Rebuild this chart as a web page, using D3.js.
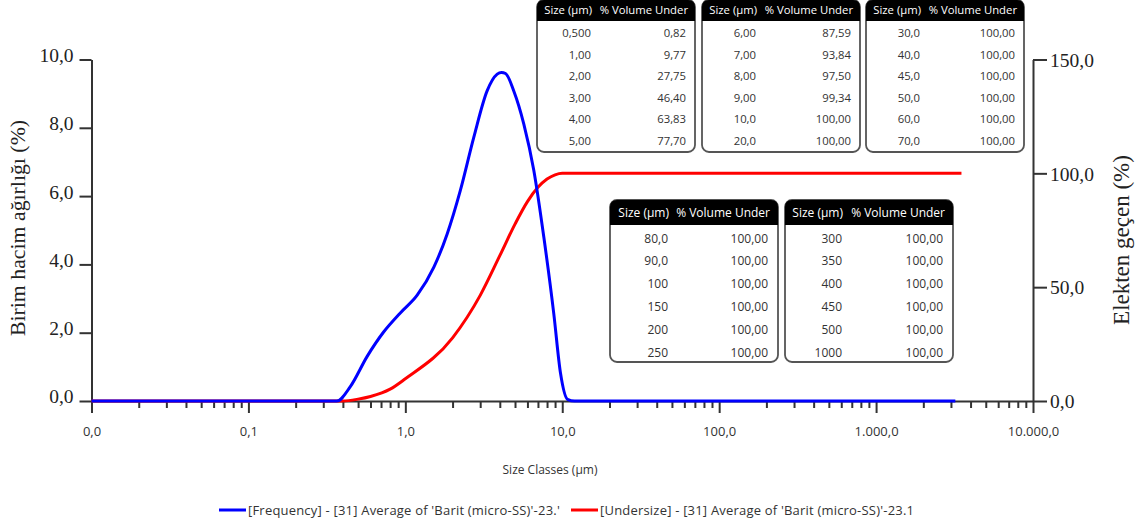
<!DOCTYPE html>
<html>
<head>
<meta charset="utf-8">
<script src="https://cdn.jsdelivr.net/npm/d3@7"></script>
<style>
  body { margin: 0; background: #fff; }
  svg { display: block; }
</style>
</head>
<body>
<div id="svg-container"></div>
<script>
// frequency curve (blue)
const freqSizes = [0.01, 0.366, 0.446, 0.57, 0.727, 0.929, 1.19, 1.52, 1.85, 2.24, 2.73, 3.32, 3.85, 4.1, 4.35, 4.91, 5.69, 6.59, 7.63, 8.83, 9.75, 10.8, 12, 3200];
const freqValues = [0, 0, 0.42, 1.3, 2.02, 2.58, 3.1, 3.92, 4.9, 6.16, 7.72, 9.08, 9.57, 9.62, 9.59, 9.08, 8.11, 6.75, 4.8, 2.56, 0.81, 0.05, 0, 0];

// undersize curve (red)
const underSizes = [0.01, 0.4, 0.5, 0.6, 0.8, 1, 2, 3, 4, 5, 6, 7, 8, 9, 10, 3500];
const underValues = [0, 0, 0.82, 2.0, 5.2, 9.77, 27.75, 46.4, 63.83, 77.7, 87.59, 93.84, 97.5, 99.34, 100, 100];

// tables
const tableSizes = ["0,500", "1,00", "2,00", "3,00", "4,00", "5,00",
  "6,00", "7,00", "8,00", "9,00", "10,0", "20,0",
  "30,0", "40,0", "45,0", "50,0", "60,0", "70,0",
  "80,0", "90,0", "100", "150", "200", "250",
  "300", "350", "400", "450", "500", "1000"];
const tableUnder = ["0,82", "9,77", "27,75", "46,40", "63,83", "77,70",
  "87,59", "93,84", "97,50", "99,34", "100,00", "100,00",
  "100,00", "100,00", "100,00", "100,00", "100,00", "100,00",
  "100,00", "100,00", "100,00", "100,00", "100,00", "100,00",
  "100,00", "100,00", "100,00", "100,00", "100,00", "100,00"];

// axis ticks
const xMajor = [0.01, 0.1, 1, 10, 100, 1000, 10000];
const xMajorLabels = ["0,0", "0,1", "1,0", "10,0", "100,0", "1.000,0", "10.000,0"];
const leftTicks = [0, 2, 4, 6, 8, 10];
const leftLabels = ["0,0", "2,0", "4,0", "6,0", "8,0", "10,0"];
const rightTicks = [0, 50, 100, 150];
const rightLabels = ["0,0", "50,0", "100,0", "150,0"];

const legendLabels = [
  "[Frequency] - [31] Average of 'Barit (micro-SS)'-23.'",
  "[Undersize] - [31] Average of 'Barit (micro-SS)'-23.1"
];

const width = 1141;
const height = 528;
const plotLeft = 91.5, plotRight = 1033, plotTop = 59.5, plotBottom = 401;

const svg = d3
  .select("#svg-container")
  .append("svg")
  .attr("width", width)
  .attr("height", height);

const x = d3.scaleLog().domain([0.01, 10000]).range([plotLeft, plotRight]);
const yL = d3.scaleLinear().domain([0, 10]).range([plotBottom, plotTop]);
const yR = d3.scaleLinear().domain([0, 150]).range([plotBottom, plotTop]);

const sans = "'Open Sans', 'Noto Sans', sans-serif";
const serif = "'Liberation Serif', 'DejaVu Serif', serif";
const axisColor = "#333";

// x axis, majors and minors
const xTicks = x.ticks();
const isMajor = (d) => Math.abs(Math.log10(d) - Math.round(Math.log10(d))) < 1e-9;
const gx = svg
  .append("g")
  .attr("transform", `translate(0,${plotBottom})`)
  .call(
    d3.axisBottom(x)
      .tickValues(xTicks)
      .tickSizeOuter(0)
      .tickFormat((d) => {
        let i = xMajor.findIndex((m) => Math.abs(m - d) / m < 1e-6);
        return i >= 0 ? xMajorLabels[i] : "";
      })
  );
gx.select(".domain").attr("stroke", axisColor).attr("stroke-width", 2);
gx.selectAll(".tick line")
  .attr("stroke", axisColor)
  .attr("stroke-width", 2)
  .attr("y2", (d) => (isMajor(d) ? 12 : 7));
gx.selectAll(".tick text")
  .attr("y", 26)
  .style("font-family", sans)
  .style("font-size", "13px")
  .style("fill", "#333");

// left axis
const gl = svg
  .append("g")
  .attr("transform", `translate(${plotLeft},0)`)
  .call(
    d3.axisLeft(yL)
      .tickValues(leftTicks)
      .tickSize(12)
      .tickSizeOuter(0)
      .tickPadding(6)
      .tickFormat((d, i) => leftLabels[i])
  );
gl.select(".domain").attr("stroke", axisColor).attr("stroke-width", 2);
gl.selectAll(".tick line").attr("stroke", axisColor).attr("stroke-width", 2);
gl.selectAll(".tick text")
  .attr("dy", "0.1em")
  .style("font-family", serif)
  .style("font-size", "19.5px")
  .style("fill", "#222");

// right axis
const gr = svg
  .append("g")
  .attr("transform", `translate(${plotRight},0)`)
  .call(
    d3.axisRight(yR)
      .tickValues(rightTicks)
      .tickSize(14)
      .tickSizeOuter(0)
      .tickPadding(3)
      .tickFormat((d, i) => rightLabels[i])
  );
gr.select(".domain").attr("stroke", axisColor).attr("stroke-width", 2);
gr.selectAll(".tick line").attr("stroke", axisColor).attr("stroke-width", 2);
gr.selectAll(".tick text")
  .attr("dy", "0.35em")
  .style("font-family", serif)
  .style("font-size", "19.5px")
  .style("fill", "#222");

// axis titles
svg.append("text")
  .attr("transform", `translate(25,228) rotate(-90)`)
  .attr("text-anchor", "middle")
  .style("font-family", serif)
  .style("font-size", "21.8px")
  .style("fill", "#222")
  .text("Birim hacim ağırlığı (%)");

svg.append("text")
  .attr("transform", `translate(1129,240) rotate(-90)`)
  .attr("text-anchor", "middle")
  .style("font-family", serif)
  .style("font-size", "23px")
  .style("fill", "#222")
  .text("Elekten geçen (%)");

svg.append("text")
  .attr("x", 550)
  .attr("y", 474)
  .attr("text-anchor", "middle")
  .style("font-family", sans)
  .style("font-size", "12px")
  .style("fill", "#333")
  .text("Size Classes (µm)");

// curves
const freqLine = d3.line()
  .x((d, i) => x(freqSizes[i]))
  .y((d) => yL(d))
  .curve(d3.curveMonotoneX);
const underLine = d3.line()
  .x((d, i) => x(underSizes[i]))
  .y((d) => yR(d))
  .curve(d3.curveMonotoneX);

svg.append("path")
  .attr("d", underLine(underValues))
  .attr("fill", "none")
  .attr("stroke", "#ff0000")
  .attr("stroke-width", 3);

svg.append("path")
  .attr("d", freqLine(freqValues))
  .attr("fill", "none")
  .attr("stroke", "#0000ff")
  .attr("stroke-width", 3);

// tables of % volume under
const tables = [
  { x: 537, y: 0, w: 158, h: 152, head: 21, row0: 33.3, rowH: 21.5, c1: 54, c2: 149, fs: 11.3 },
  { x: 702, y: 0, w: 158, h: 152, head: 21, row0: 33.3, rowH: 21.5, c1: 54, c2: 149, fs: 11.3 },
  { x: 866, y: 0, w: 158, h: 152, head: 21, row0: 33.3, rowH: 21.5, c1: 54, c2: 149, fs: 11.3 },
  { x: 610, y: 200, w: 168, h: 162, head: 25, row0: 38.3, rowH: 22.9, c1: 58, c2: 158, fs: 12 },
  { x: 785, y: 200, w: 168, h: 162, head: 25, row0: 38.3, rowH: 22.9, c1: 57, c2: 158, fs: 12 }
];

tables.forEach((t, k) => {
  const g = svg.append("g").attr("transform", `translate(${t.x},${t.y})`);
  g.append("rect")
    .attr("x", 0).attr("y", 0)
    .attr("width", t.w).attr("height", t.h)
    .attr("rx", 7)
    .attr("fill", "#fff")
    .attr("stroke", "#555")
    .attr("stroke-width", 1.8);
  g.append("path")
    .attr("d", `M0,${t.head} V7 Q0,0 7,0 H${t.w - 7} Q${t.w},0 ${t.w},7 V${t.head} Z`)
    .attr("fill", "#000");
  g.append("text")
    .attr("x", t.c1 + 1).attr("y", t.head / 2)
    .attr("dy", "0.35em")
    .attr("text-anchor", "end")
    .style("font-family", sans).style("font-size", t.fs + "px").style("fill", "#fff")
    .text("Size (µm)");
  g.append("text")
    .attr("x", t.c2 + 2).attr("y", t.head / 2)
    .attr("dy", "0.35em")
    .attr("text-anchor", "end")
    .style("font-family", sans).style("font-size", t.fs + "px").style("fill", "#fff")
    .text("% Volume Under");
  for (let r = 0; r < 6; r++) {
    const idx = k * 6 + r;
    g.append("text")
      .attr("x", t.c1).attr("y", t.row0 + r * t.rowH)
      .attr("dy", "0.35em")
      .attr("text-anchor", "end")
      .style("font-family", sans).style("font-size", t.fs + "px").style("fill", "#333")
      .text(tableSizes[idx]);
    g.append("text")
      .attr("x", t.c2).attr("y", t.row0 + r * t.rowH)
      .attr("dy", "0.35em")
      .attr("text-anchor", "end")
      .style("font-family", sans).style("font-size", t.fs + "px").style("fill", "#333")
      .text(tableUnder[idx]);
  }
});

// legend
const legendX = [219, 571];
const legendColors = ["#0000ff", "#ff0000"];
legendLabels.forEach((lab, i) => {
  svg.append("line")
    .attr("x1", legendX[i]).attr("x2", legendX[i] + 27)
    .attr("y1", 510).attr("y2", 510)
    .attr("stroke", legendColors[i])
    .attr("stroke-width", 3);
  svg.append("text")
    .attr("x", legendX[i] + 29).attr("y", 510)
    .attr("dy", "0.35em")
    .style("font-family", sans)
    .style("font-size", "13px")
    .style("letter-spacing", "0.2px")
    .style("fill", "#333")
    .text(lab);
});
</script>
</body>
</html>
